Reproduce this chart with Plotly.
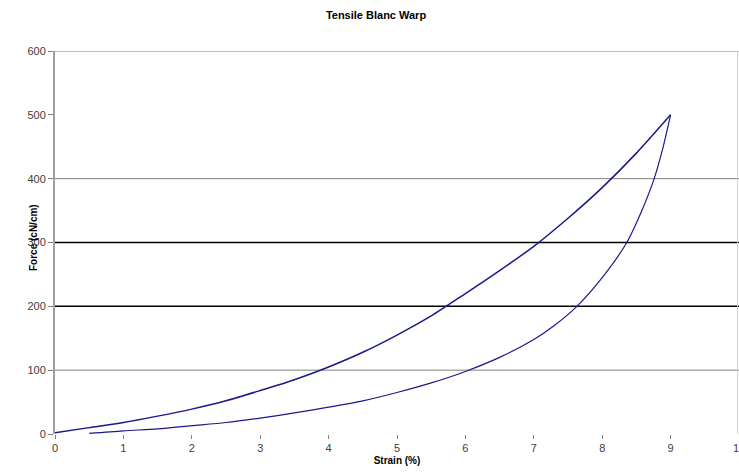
import plotly.graph_objects as go

title_text = "Tensile Blanc Warp"
x_title = "Strain (%)"
y_title = "Force (cN/cm)"

# Loading branch (strain %, force cN/cm)
load_strain = [0, 0.5, 1, 1.5, 2, 2.5, 3, 3.5, 4, 4.5, 5, 5.5, 6, 6.5, 7, 7.5, 8, 8.5, 9]
load_force = [2, 10, 18, 28, 39, 52, 68, 85, 105, 128, 155, 185, 220, 256, 294, 338, 386, 440, 500]

# Unloading branch
unload_strain = [9, 8.88, 8.76, 8.58, 8.36, 8.0, 7.63, 7.3, 7.0, 6.5, 6.0, 5.5, 5.0, 4.5, 4.0,
                 3.5, 3.0, 2.5, 2.0, 1.5, 1.0, 0.5]
unload_force = [500, 445, 400, 350, 300, 245, 200, 170, 148, 120, 98, 80, 65, 52, 42,
                33, 25, 18, 13, 8, 5, 1]

x_ticks = [0, 1, 2, 3, 4, 5, 6, 7, 8, 9, 10]
y_ticks = [0, 100, 200, 300, 400, 500, 600]
grid_gray = [100, 400]
grid_black = [200, 300]

line_color = "#1a1a8a"

fig = go.Figure()
fig.add_trace(go.Scatter(x=load_strain, y=load_force, mode="lines",
                         line=dict(color=line_color, width=1.5, shape="spline", smoothing=0.8),
                         showlegend=False, hoverinfo="skip"))
fig.add_trace(go.Scatter(x=unload_strain, y=unload_force, mode="lines",
                         line=dict(color=line_color, width=1.2, shape="spline", smoothing=0.8),
                         showlegend=False, hoverinfo="skip"))

shapes = []
for g in grid_gray:
    shapes.append(dict(type="line", xref="paper", yref="y", x0=0, x1=1, y0=g, y1=g,
                       line=dict(color="#808080", width=1), layer="below"))
for g in grid_black:
    shapes.append(dict(type="line", xref="paper", yref="y", x0=0, x1=1, y0=g, y1=g,
                       line=dict(color="#000000", width=1.5), layer="below"))
# plot-area frame: top and right borders
shapes.append(dict(type="line", xref="paper", yref="y", x0=0, x1=1, y0=600, y1=600,
                   line=dict(color="#808080", width=1), layer="below"))
shapes.append(dict(type="line", xref="paper", yref="paper", x0=0.998, x1=0.998, y0=0, y1=1,
                   line=dict(color="#d0d0d0", width=1), layer="below"))

fig.update_layout(
    width=739, height=476,
    margin=dict(l=55, r=0, t=51, b=42, autoexpand=False),
    paper_bgcolor="white", plot_bgcolor="white",
    font=dict(family="Liberation Sans, Arial, sans-serif", size=11, color="#000000"),
    title=dict(text="<b>" + title_text + "</b>", x=376 / 739, xref="container", xanchor="center",
               y=1 - 15 / 476, yref="container", yanchor="middle",
               font=dict(size=11, color="#000000")),
    shapes=shapes,
    annotations=[dict(text="<b>" + y_title + "</b>", textangle=-90, showarrow=False,
                      xref="paper", yref="paper", x=(33 - 55) / 684, y=(434 - 238) / 383,
                      xanchor="center", yanchor="middle",
                      font=dict(size=10, color="#000000"))],
    xaxis=dict(range=[0, 10], tickvals=x_ticks, ticktext=[str(v) for v in x_ticks],
               showgrid=False, zeroline=False, showline=False, ticklabeloverflow="allow",
               automargin=False,
               ticks="outside", ticklen=4, tickcolor="#808080", tickwidth=1,
               tickfont=dict(size=11, color="#404040"),
               title=dict(text="<b>" + x_title + "</b>", font=dict(size=10), standoff=3)),
    yaxis=dict(range=[0, 600], tickvals=y_ticks, ticktext=[str(v) for v in y_ticks],
               showgrid=False, zeroline=False, showline=True, linecolor="#a0a0a0", linewidth=2,
               automargin=False,
               ticks="outside", ticklen=5, tickcolor="#808080", tickwidth=1,
               tickfont=dict(size=11, color="#404040")),
)

fig.write_html("out.html")
